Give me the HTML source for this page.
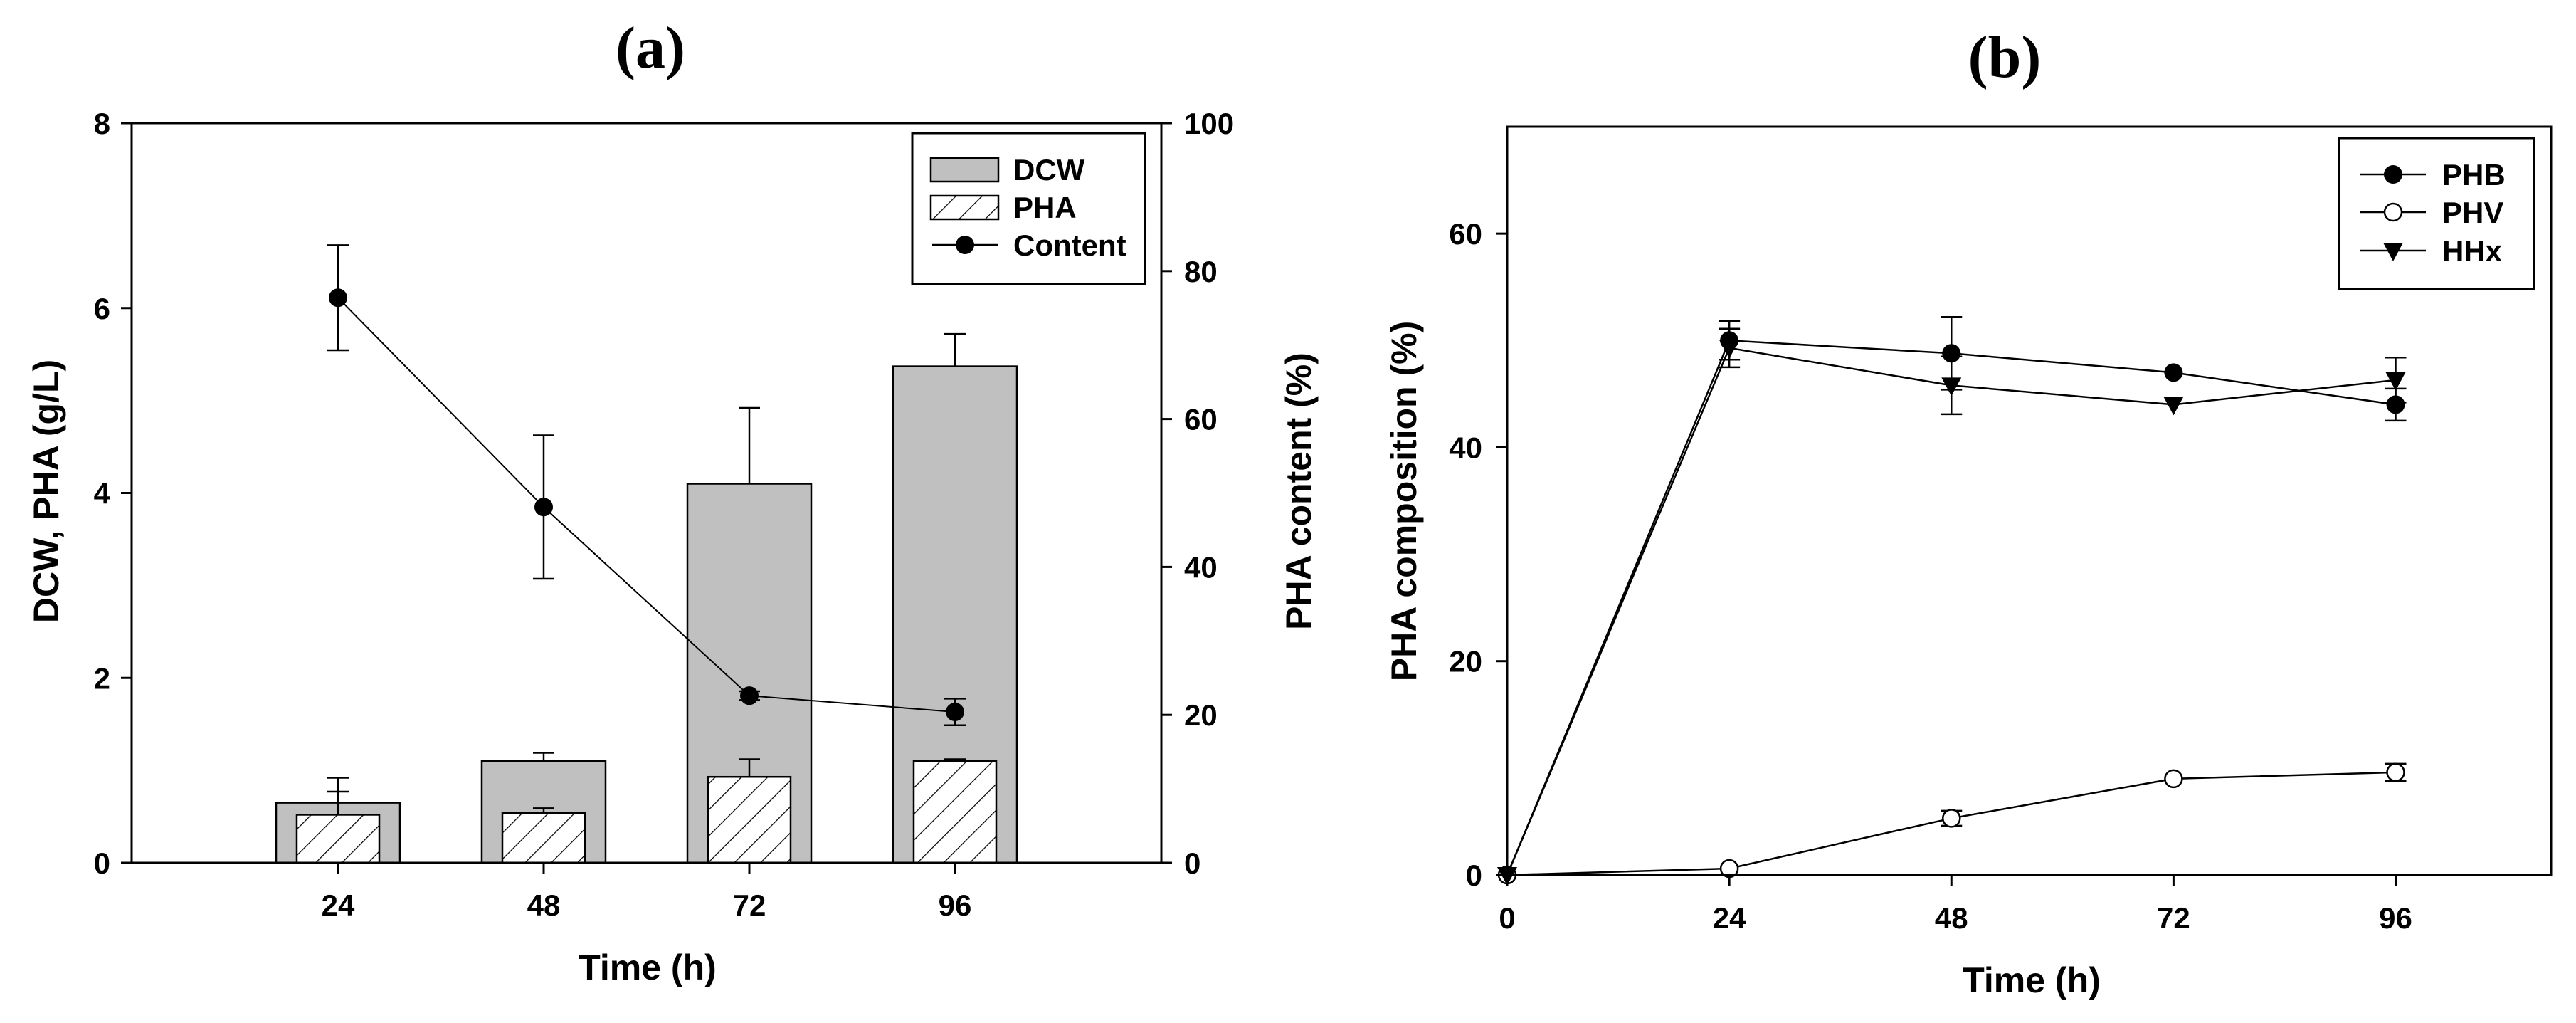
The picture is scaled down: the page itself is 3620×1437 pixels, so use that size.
<!DOCTYPE html>
<html><head><meta charset="utf-8"><style>
html,body{margin:0;padding:0;background:#fff;overflow:hidden;}
svg{display:block;}
text{font-family:"Liberation Sans",Arial,sans-serif;font-weight:bold;fill:#000;}
</style></head><body>
<svg id="chart" width="3620" height="1437" viewBox="0 0 3620 1437" xmlns="http://www.w3.org/2000/svg">
<defs>
<pattern id="hatch" patternUnits="userSpaceOnUse" width="26" height="26" patternTransform="rotate(45)">
<rect width="26" height="26" fill="#fff"/><line x1="0" y1="0" x2="0" y2="26" stroke="#000" stroke-width="2.5"/>
</pattern>
</defs>
<g id="pa"></g>
<g id="pb"></g>
</svg>
<script>
// Panel (a) data
const catsA = [24, 48, 72, 96];
const dcw = [0.65, 1.10, 4.10, 5.37];
const dcwErr = [0.27, 0.09, 0.82, 0.35];
const pha = [0.52, 0.54, 0.93, 1.10];
const phaErr = [0.25, 0.05, 0.19, 0.02];
const content = [76.4, 48.1, 22.6, 20.4];
const contentErr = [7.1, 9.7, 0.6, 1.8];
const yTicksA = [0, 2, 4, 6, 8];
const y2TicksA = [0, 20, 40, 60, 80, 100];
// Panel (b) data
const timesB = [0, 24, 48, 72, 96];
const phb = [0, 50.0, 48.8, 47.0, 44.0];
const phbErr = [0, 1.8, 3.4, 0.4, 1.5];
const phv = [0, 0.6, 5.3, 9.0, 9.6];
const phvErr = [0, 0.3, 0.7, 0.4, 0.8];
const hhx = [0, 49.3, 45.8, 44.0, 46.3];
const hhxErr = [0, 1.8, 2.7, 0.5, 2.1];
const xTicksB = [0, 24, 48, 72, 96];
const yTicksB = [0, 20, 40, 60];

const NS = "http://www.w3.org/2000/svg";
function el(parent, tag, attrs, txt){
  const e = document.createElementNS(NS, tag);
  for (const k in attrs) e.setAttribute(k, attrs[k]);
  if (txt !== undefined) e.textContent = txt;
  parent.appendChild(e);
  return e;
}
const pa = document.getElementById('pa');
const pb = document.getElementById('pb');

// ---------- Panel A ----------
const A = {l:185, r:1632, t:173, b:1212};
const xA = i => 475 + i*289;
const yA = v => A.b - v/8*(A.b-A.t);
const y2A = v => A.b - v/100*(A.b-A.t);
let t;
t = el(pa,'text',{x:914,y:95,'text-anchor':'middle','font-size':84,style:'font-family:"Liberation Serif",serif;font-weight:bold'},'(a)');
 
catsA.forEach((c,i)=>{
  const cx = xA(i);
  let r = el(pa,'rect',{x:cx-87,y:yA(dcw[i]),width:174,height:yA(0)-yA(dcw[i]),fill:'#c0c0c0',stroke:'#000','stroke-width':2.5});
   
  el(pa,'line',{x1:cx,y1:yA(dcw[i]),x2:cx,y2:yA(dcw[i]+dcwErr[i]),stroke:'#000','stroke-width':2.5});
  el(pa,'line',{x1:cx-15,y1:yA(dcw[i]+dcwErr[i]),x2:cx+15,y2:yA(dcw[i]+dcwErr[i]),stroke:'#000','stroke-width':2.5});
  r = el(pa,'rect',{x:cx-58,y:yA(pha[i]),width:116,height:yA(0)-yA(pha[i]),fill:'url(#hatch)',stroke:'#000','stroke-width':2.5});
   
  el(pa,'line',{x1:cx,y1:yA(pha[i]),x2:cx,y2:yA(pha[i]+phaErr[i]),stroke:'#000','stroke-width':2.5});
  el(pa,'line',{x1:cx-15,y1:yA(pha[i]+phaErr[i]),x2:cx+15,y2:yA(pha[i]+phaErr[i]),stroke:'#000','stroke-width':2.5});
});
let pts = content.map((v,i)=>xA(i)+','+y2A(v)).join(' ');
let pl = el(pa,'polyline',{points:pts,fill:'none',stroke:'#000','stroke-width':2});
 
content.forEach((v,i)=>{
  const cx=xA(i);
  el(pa,'line',{x1:cx,y1:y2A(v-contentErr[i]),x2:cx,y2:y2A(v+contentErr[i]),stroke:'#000','stroke-width':2.5});
  el(pa,'line',{x1:cx-15,y1:y2A(v-contentErr[i]),x2:cx+15,y2:y2A(v-contentErr[i]),stroke:'#000','stroke-width':2.5});
  el(pa,'line',{x1:cx-15,y1:y2A(v+contentErr[i]),x2:cx+15,y2:y2A(v+contentErr[i]),stroke:'#000','stroke-width':2.5});
  const c = el(pa,'circle',{cx:cx,cy:y2A(v),r:13,fill:'#000'});
   
});
el(pa,'line',{x1:A.l,y1:A.t,x2:A.r,y2:A.t,stroke:'#000','stroke-width':3});
el(pa,'line',{x1:A.l,y1:A.b,x2:A.r,y2:A.b,stroke:'#000','stroke-width':3});
el(pa,'line',{x1:A.l,y1:A.t,x2:A.l,y2:A.b,stroke:'#000','stroke-width':3});
el(pa,'line',{x1:A.r,y1:A.t,x2:A.r,y2:A.b,stroke:'#000','stroke-width':3});
yTicksA.forEach(v=>{
  el(pa,'line',{x1:A.l-15,y1:yA(v),x2:A.l,y2:yA(v),stroke:'#000','stroke-width':3});
  const tt=el(pa,'text',{x:A.l-30,y:yA(v)+15,'text-anchor':'end','font-size':42},v);
   
});
y2TicksA.forEach(v=>{
  el(pa,'line',{x1:A.r,y1:y2A(v),x2:A.r+15,y2:y2A(v),stroke:'#000','stroke-width':3});
  const tt=el(pa,'text',{x:A.r+32,y:y2A(v)+15,'text-anchor':'start','font-size':42},v);
   
});
catsA.forEach((c,i)=>{
  el(pa,'line',{x1:xA(i),y1:A.b,x2:xA(i),y2:A.b+15,stroke:'#000','stroke-width':3});
  const tt=el(pa,'text',{x:xA(i),y:1286,'text-anchor':'middle','font-size':42},c);
   
});
t=el(pa,'text',{x:910,y:1376,'text-anchor':'middle','font-size':50},'Time (h)');
 
t=el(pa,'text',{x:0,y:0,'text-anchor':'middle','font-size':50,transform:'translate(82,690) rotate(-90)'},'DCW, PHA (g/L)');
 
t=el(pa,'text',{x:0,y:0,'text-anchor':'middle','font-size':50,transform:'translate(1842,690) rotate(-90)'},'PHA content (%)');
 
let lg = el(pa,'g',{});  
el(lg,'rect',{x:1282,y:187,width:327,height:212,fill:'#fff',stroke:'#000','stroke-width':3});
el(lg,'rect',{x:1308,y:222,width:95,height:33,fill:'#c0c0c0',stroke:'#000','stroke-width':2.5});
el(lg,'text',{x:1424,y:253,'font-size':42},'DCW');
el(lg,'rect',{x:1308,y:275,width:95,height:33,fill:'url(#hatch)',stroke:'#000','stroke-width':2.5});
el(lg,'text',{x:1424,y:306,'font-size':42},'PHA');
el(lg,'line',{x1:1310,y1:344,x2:1402,y2:344,stroke:'#000','stroke-width':2.5});
el(lg,'circle',{cx:1356,cy:344,r:13,fill:'#000'});
el(lg,'text',{x:1424,y:359,'font-size':42},'Content');

// ---------- Panel B ----------
const B = {l:2118, r:3585, t:178, b:1229};
const xB = v => B.l + v/112.8*(B.r-B.l);
const yB = v => B.b - v/70*(B.b-B.t);
t = el(pb,'text',{x:2817,y:108,'text-anchor':'middle','font-size':84,style:'font-family:"Liberation Serif",serif;font-weight:bold'},'(b)');
 
function series(name, vals, errs, marker){
  const g = el(pb,'g',{});  
  el(g,'polyline',{points:vals.map((v,i)=>xB(timesB[i])+','+yB(v)).join(' '),fill:'none',stroke:'#000','stroke-width':2.5});
  vals.forEach((v,i)=>{
    const cx=xB(timesB[i]);
    if(errs[i]>0.5){
      el(g,'line',{x1:cx,y1:yB(v-errs[i]),x2:cx,y2:yB(v+errs[i]),stroke:'#000','stroke-width':2.5});
      el(g,'line',{x1:cx-15,y1:yB(v-errs[i]),x2:cx+15,y2:yB(v-errs[i]),stroke:'#000','stroke-width':2.5});
      el(g,'line',{x1:cx-15,y1:yB(v+errs[i]),x2:cx+15,y2:yB(v+errs[i]),stroke:'#000','stroke-width':2.5});
    }
    marker(g,cx,yB(v));
  });
}
series('phb',phb,phbErr,(g,x,y)=>{el(g,'circle',{cx:x,cy:y,r:13,fill:'#000'});});
series('phv',phv,phvErr,(g,x,y)=>{el(g,'circle',{cx:x,cy:y,r:12,fill:'#fff',stroke:'#000','stroke-width':2.5});});
series('hhx',hhx,hhxErr,(g,x,y)=>{el(g,'polygon',{points:(x-14)+','+(y-11)+' '+(x+14)+','+(y-11)+' '+x+','+(y+15),fill:'#000'});});
el(pb,'rect',{x:B.l,y:B.t,width:B.r-B.l,height:B.b-B.t,fill:'none',stroke:'#000','stroke-width':3});
yTicksB.forEach(v=>{
  el(pb,'line',{x1:B.l-15,y1:yB(v),x2:B.l,y2:yB(v),stroke:'#000','stroke-width':3});
  const tt=el(pb,'text',{x:B.l-35,y:yB(v)+15,'text-anchor':'end','font-size':42},v);
   
});
xTicksB.forEach(v=>{
  el(pb,'line',{x1:xB(v),y1:B.b,x2:xB(v),y2:B.b+15,stroke:'#000','stroke-width':3});
  const tt=el(pb,'text',{x:xB(v),y:1304,'text-anchor':'middle','font-size':42},v);
   
});
t=el(pb,'text',{x:2855,y:1394,'text-anchor':'middle','font-size':50},'Time (h)');
 
t=el(pb,'text',{x:0,y:0,'text-anchor':'middle','font-size':50,transform:'translate(1990,704) rotate(-90)'},'PHA composition (%)');
 
lg = el(pb,'g',{});  
el(lg,'rect',{x:3287,y:194,width:274,height:212,fill:'#fff',stroke:'#000','stroke-width':3});
const legB=[['PHB',245],['PHV',298],['HHx',352]];
legB.forEach(([n,y],i)=>{
  el(lg,'line',{x1:3317,y1:y,x2:3409,y2:y,stroke:'#000','stroke-width':2.5});
  if(i==0) el(lg,'circle',{cx:3363,cy:y,r:13,fill:'#000'});
  if(i==1) el(lg,'circle',{cx:3363,cy:y,r:12,fill:'#fff',stroke:'#000','stroke-width':2.5});
  if(i==2) el(lg,'polygon',{points:(3349)+','+(y-11)+' '+(3377)+','+(y-11)+' 3363,'+(y+15),fill:'#000'});
  el(lg,'text',{x:3432,y:y+15,'font-size':42},n);
});
</script>
</body></html>
